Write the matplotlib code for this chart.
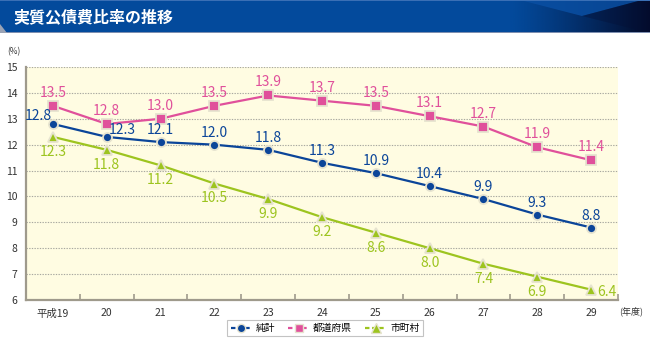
import numpy as np
import matplotlib
matplotlib.use("Agg")
import matplotlib.pyplot as plt
from matplotlib.patches import Rectangle, Polygon
from matplotlib.lines import Line2D

plt.rcParams['font.family'] = ['Noto Sans CJK JP', 'DejaVu Sans']

# ---- data ----
years = ['平成19', '20', '21', '22', '23', '24', '25', '26', '27', '28', '29']
total = [12.8, 12.3, 12.1, 12.0, 11.8, 11.3, 10.9, 10.4, 9.9, 9.3, 8.8]
prefectures = [13.5, 12.8, 13.0, 13.5, 13.9, 13.7, 13.5, 13.1, 12.7, 11.9, 11.4]
municipalities = [12.3, 11.8, 11.2, 10.5, 9.9, 9.2, 8.6, 8.0, 7.4, 6.9, 6.4]
series_names = ['純計', '都道府県', '市町村']
title = '実質公債費比率の推移'

BLUE = '#0B4599'
PINK = '#E0509B'
GREEN = '#9DC41F'
HALO = '#E6E3CF'

W, H = 650, 339
fig = plt.figure(figsize=(W / 100, H / 100), dpi=100)

# ---- header banner ----
ban = fig.add_axes([0, 1 - 33 / H, 1, 33 / H])
ban.set_xlim(0, W)
ban.set_ylim(33, 0)
ban.axis('off')
ban.add_patch(Rectangle((0, 0), W, 33, color='#034A9C', zorder=0))
# darkening gradient towards the right edge
grad = np.linspace(0, 1, 256) ** 1.2
base = np.array([3, 74, 156]) / 255
dark = np.array([3, 10, 40]) / 255
img = base[None, :] * (1 - grad[:, None]) + dark[None, :] * grad[:, None]
ban.imshow(img[None, :, :], extent=(510, W, 33, 0), aspect='auto', zorder=1)
# crossing light wedge
ban.add_patch(Polygon([(520, 0), (642, 0), (582, 16)], closed=True,
                      color='#0A4FA3', alpha=0.85, zorder=2, lw=0))
ban.add_patch(Polygon([(642, 0), (650, 0), (650, 33), (582, 16)], closed=True,
                      color='#050F35', alpha=0.35, zorder=2, lw=0))
ban.add_patch(Rectangle((0, 0), W, 1.2, color='#3A6FB5', zorder=3, lw=0))
ban.add_patch(Rectangle((0, 31.5), W, 1.5, color='#7E8FB0', zorder=3, lw=0))
ban.add_patch(Polygon([(0, 24), (7, 33), (0, 33)], closed=True,
                      color='#9AA3B5', zorder=4, lw=0))
ban.text(13, 17, title, color='white', fontsize=11.5, fontweight='bold',
         va='center', ha='left', zorder=5)

# ---- main plot ----
left, right, top, bottom = 26, 618, 67, 300
ax = fig.add_axes([left / W, 1 - bottom / H, (right - left) / W, (bottom - top) / H])
ax.set_facecolor('#FFFCE2')
x = np.arange(len(years))
ax.set_xlim(-0.5, len(years) - 0.5)
ax.set_ylim(6, 15)

for v in range(7, 16):
    ax.axhline(v, color='#A8A8A0', lw=0.8, ls=(0, (1.2, 1.2)), zorder=1)

for s in ['top', 'right']:
    ax.spines[s].set_visible(False)
for s in ['left', 'bottom']:
    ax.spines[s].set_color('#9F9A8C')
    ax.spines[s].set_linewidth(1.6)

ax.set_yticks(range(6, 16))
ax.tick_params(axis='y', length=0, pad=6, labelsize=7.5, labelcolor='#333333')
ax.set_xticks(x)
ax.set_xticklabels(years)
ax.tick_params(axis='x', which='major', length=0, pad=6, labelsize=7.5, labelcolor='#333333')
ax.set_xticks(np.arange(0.5, len(years), 1.0), minor=True)
ax.tick_params(axis='x', which='minor', direction='in', length=4, width=1.2, color='#9F9A8C')

line_kw = dict(lw=1.6, markeredgecolor=HALO, markeredgewidth=1.3, zorder=3, clip_on=False)
ax.plot(x, prefectures, color=PINK, marker='s', markersize=6.5, **line_kw)
ax.plot(x, total, color=BLUE, marker='o', markersize=6.5, **line_kw)
ax.plot(x, municipalities, color=GREEN, marker='^', markersize=7.5, **line_kw)

lab_kw = dict(textcoords='offset pixels', ha='center', va='center', fontsize=10, zorder=4)
for i, v in enumerate(prefectures):
    ax.annotate(f'{v:.1f}', (x[i], v), xytext=(0, 13), color=PINK, **lab_kw)
for i, v in enumerate(total):
    off = (0, 12)
    if i == 0:
        off = (-15, 8)
    elif i == 1:
        off = (16, 7)
    ax.annotate(f'{v:.1f}', (x[i], v), xytext=off, color=BLUE, **lab_kw)
for i, v in enumerate(municipalities):
    off = (0, -15)
    if i == len(municipalities) - 1:
        off = (16, -2)
    ax.annotate(f'{v:.1f}', (x[i], v), xytext=off, color=GREEN, **lab_kw)

fig.text(14 / W, 1 - 52 / H, '(%)', fontsize=6, ha='center', va='center', color='#333333')
fig.text(631 / W, 1 - 311 / H, '(年度)', fontsize=6.5, ha='center', va='center', color='#333333')

# ---- legend ----
handles = [
    Line2D([], [], color=BLUE, marker='o', ls=(0, (2, 1.2)), lw=1.6, markersize=6,
           markeredgecolor=HALO, markeredgewidth=1.0),
    Line2D([], [], color=PINK, marker='s', ls=(0, (2, 1.2)), lw=1.6, markersize=6,
           markeredgecolor=HALO, markeredgewidth=1.0),
    Line2D([], [], color=GREEN, marker='^', ls=(0, (2, 1.2)), lw=1.6, markersize=6.5,
           markeredgecolor=HALO, markeredgewidth=1.0),
]
leg = fig.legend(handles, series_names, loc='center', bbox_to_anchor=(325 / W, 1 - 328 / H),
                 ncol=3, fontsize=7, frameon=True, fancybox=False, handlelength=2.2,
                 handletextpad=0.4, columnspacing=1.3, borderpad=0.35)
leg.get_frame().set_edgecolor('#B5B5B5')
leg.get_frame().set_linewidth(0.8)

fig.savefig('out.png', dpi=100)
